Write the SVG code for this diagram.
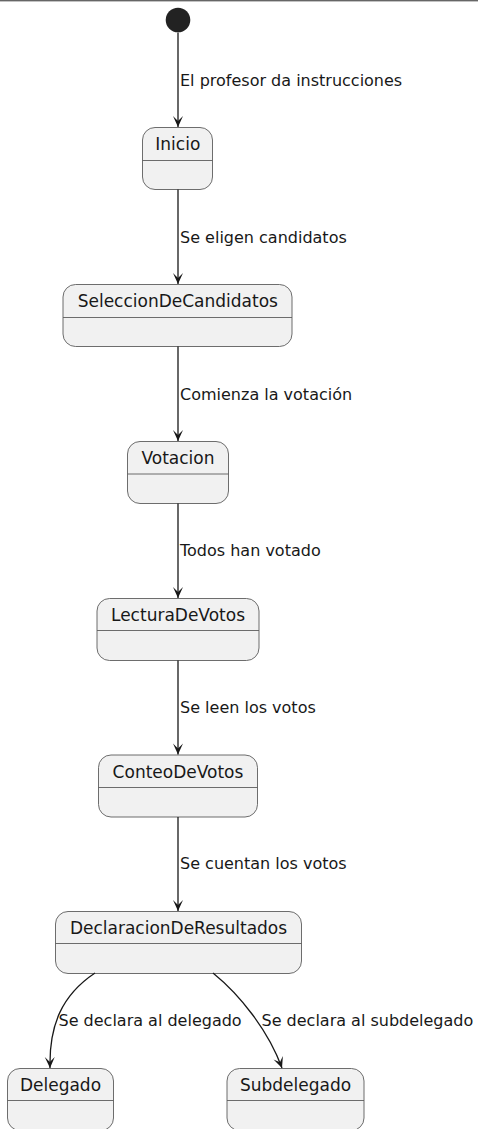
<svg xmlns="http://www.w3.org/2000/svg" width="478" height="1129" viewBox="0 0 478 1129">
<style>
.st{fill:#F1F1F1;stroke:#5c5c5c;stroke-width:0.9}
.dv{stroke:#5c5c5c;stroke-width:0.9}
.nm{font-family:"DejaVu Sans",sans-serif;font-size:17px;fill:#181818;text-anchor:middle}
.lb{font-family:"DejaVu Sans",sans-serif;font-size:16px;fill:#181818}
.ed{fill:none;stroke:#181818;stroke-width:1.3;marker-end:url(#ah)}
</style>
<defs>
<marker id="ah" markerUnits="userSpaceOnUse" viewBox="-12 -6 13 12" refX="0" refY="0" markerWidth="13" markerHeight="12" orient="auto">
<path d="M0,0 L-11,-5 L-6,0 L-11,5 Z" fill="#181818"/>
</marker>
</defs>
<rect x="0" y="0" width="478" height="1.4" fill="#666666"/>
<g id="start"><circle cx="178" cy="20" r="12.3" fill="#222222"/></g>
<g id="Inicio"><rect class="st" x="142.5" y="127.5" width="70" height="62" rx="12.5"/><line class="dv" x1="142.5" y1="160.5" x2="212.5" y2="160.5"/><text class="nm" x="177.8" y="150">Inicio</text></g>
<g id="SeleccionDeCandidatos"><rect class="st" x="63" y="284.5" width="229" height="62" rx="12.5"/><line class="dv" x1="63" y1="317.5" x2="292" y2="317.5"/><text class="nm" x="177.8" y="307">SeleccionDeCandidatos</text></g>
<g id="Votacion"><rect class="st" x="127.5" y="441.5" width="101" height="62" rx="12.5"/><line class="dv" x1="127.5" y1="474" x2="228.5" y2="474"/><text class="nm" x="178" y="464">Votacion</text></g>
<g id="LecturaDeVotos"><rect class="st" x="97" y="598.5" width="162" height="62" rx="12.5"/><line class="dv" x1="97" y1="630.5" x2="259" y2="630.5"/><text class="nm" x="178" y="621">LecturaDeVotos</text></g>
<g id="ConteoDeVotos"><rect class="st" x="98.5" y="755" width="159" height="62" rx="12.5"/><line class="dv" x1="98.5" y1="787.5" x2="257.5" y2="787.5"/><text class="nm" x="178" y="777.5">ConteoDeVotos</text></g>
<g id="DeclaracionDeResultados"><rect class="st" x="55.5" y="911.5" width="246" height="62" rx="12.5"/><line class="dv" x1="55.5" y1="943.5" x2="301.5" y2="943.5"/><text class="nm" x="178.5" y="934">DeclaracionDeResultados</text></g>
<g id="Delegado"><rect class="st" x="7.5" y="1068.5" width="106" height="62" rx="12.5"/><line class="dv" x1="7.5" y1="1100.5" x2="113.5" y2="1100.5"/><text class="nm" x="60.5" y="1091">Delegado</text></g>
<g id="Subdelegado"><rect class="st" x="227" y="1068.5" width="137" height="62" rx="12.5"/><line class="dv" x1="227" y1="1100.5" x2="364" y2="1100.5"/><text class="nm" x="295.5" y="1091">Subdelegado</text></g>
<g id="connectors">
<path class="ed" d="M178,32.5 L178,127"/>
<path class="ed" d="M178,189.5 L178,284"/>
<path class="ed" d="M178,346.5 L178,441"/>
<path class="ed" d="M178,503.5 L178,598"/>
<path class="ed" d="M178,660.5 L178,754.5"/>
<path class="ed" d="M178,817 L178,911"/>
<path class="ed" d="M95,973 C62,995 49,1025 50,1068"/>
<path class="ed" d="M213,973 C240,995 268,1030 282,1068"/>
<text class="lb" x="180" y="86">El profesor da instrucciones</text>
<text class="lb" x="180" y="243">Se eligen candidatos</text>
<text class="lb" x="180" y="399.5">Comienza la votación</text>
<text class="lb" x="180" y="556">Todos han votado</text>
<text class="lb" x="180" y="712.5">Se leen los votos</text>
<text class="lb" x="180" y="869">Se cuentan los votos</text>
<text class="lb" x="58.5" y="1026">Se declara al delegado</text>
<text class="lb" x="261.5" y="1026">Se declara al subdelegado</text>
</g>
</svg>
